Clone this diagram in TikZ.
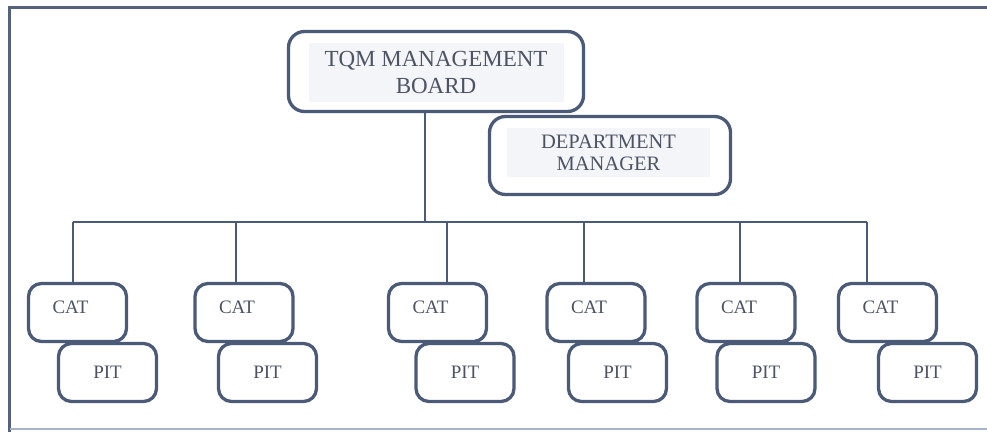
\documentclass[tikz,border=0pt]{standalone}
\usepackage{fontspec}
\setmainfont{Liberation Serif}
\definecolor{boxline}{HTML}{4B5A77}
\definecolor{boxtext}{HTML}{4D5363}
\definecolor{textbg}{HTML}{F4F5F8}
\definecolor{frameline}{HTML}{56627C}
\definecolor{framelight}{HTML}{A9B3C8}
\tikzset{
  roundbox/.style={draw=boxline,line width=3.3pt,rounded corners=13pt,fill=white,text=boxtext},
  bigbox/.style={roundbox,rounded corners=16pt},
  smallbox/.style={roundbox,minimum width=98pt,minimum height=58pt,font=\fontsize{19}{21}\selectfont},
  textpanel/.style={fill=textbg,text=boxtext,align=center,inner sep=0pt},
  link/.style={draw=boxline,line width=2.5pt},
}
\begin{document}
\begin{tikzpicture}[x=1pt,y=-1pt]
\useasboundingbox (0,0) rectangle (987,432);
\draw[frameline,line width=3.5pt] (9.5,432) -- (9.5,7.5) -- (987,7.5);
\draw[framelight,line width=1.5pt] (9.5,429) -- (987,429);
\node[bigbox,minimum width=295pt,minimum height=80pt] (tqm) at (436,71.5) {};
\node[textpanel,minimum width=255pt,minimum height=59pt,font=\fontsize{23}{27}\selectfont] (tqmtext) at (436,72) {TQM MANAGEMENT\\BOARD};
\node[bigbox,minimum width=241pt,minimum height=78pt] (dm) at (610,155.5) {};
\node[textpanel,minimum width=203pt,minimum height=49pt,font=\fontsize{20.5}{22}\selectfont] (dmtext) at (608.5,152.5) {DEPARTMENT\\MANAGER};
\node[smallbox,label={[boxtext,xshift=-7pt,yshift=5pt,font=\fontsize{19}{21}\selectfont]center:CAT}] (cat1) at (77.5,312.5) {};
\node[smallbox,label={[boxtext,xshift=-7pt,yshift=5pt,font=\fontsize{19}{21}\selectfont]center:CAT}] (cat2) at (244,312.5) {};
\node[smallbox,label={[boxtext,xshift=-7pt,yshift=5pt,font=\fontsize{19}{21}\selectfont]center:CAT}] (cat3) at (437.5,312.5) {};
\node[smallbox,label={[boxtext,xshift=-7pt,yshift=5pt,font=\fontsize{19}{21}\selectfont]center:CAT}] (cat4) at (596,312.5) {};
\node[smallbox,label={[boxtext,xshift=-7pt,yshift=5pt,font=\fontsize{19}{21}\selectfont]center:CAT}] (cat5) at (746,312.5) {};
\node[smallbox,label={[boxtext,xshift=-7pt,yshift=5pt,font=\fontsize{19}{21}\selectfont]center:CAT}] (cat6) at (887.5,312.5) {};
\node[smallbox] (pit1) at (107.5,372.5) {PIT};
\node[smallbox] (pit2) at (267.5,372.5) {PIT};
\node[smallbox] (pit3) at (465,372.5) {PIT};
\node[smallbox] (pit4) at (617.5,372.5) {PIT};
\node[smallbox] (pit5) at (766,372.5) {PIT};
\node[smallbox] (pit6) at (927.5,372.5) {PIT};
\coordinate (b0) at (425,222);
\coordinate (b1) at (73,222);
\coordinate (b2) at (236,222);
\coordinate (b3) at (447,222);
\coordinate (b4) at (584,222);
\coordinate (b5) at (740,222);
\coordinate (b6) at (867,222);
\draw[link] (b0 |- tqm.south) -- (b0);
\draw[link] (b1) -- (b6);
\foreach \i in {1,...,6}
  \draw[link] (b\i) -- (b\i |- cat\i.north);
\end{tikzpicture}
\end{document}
